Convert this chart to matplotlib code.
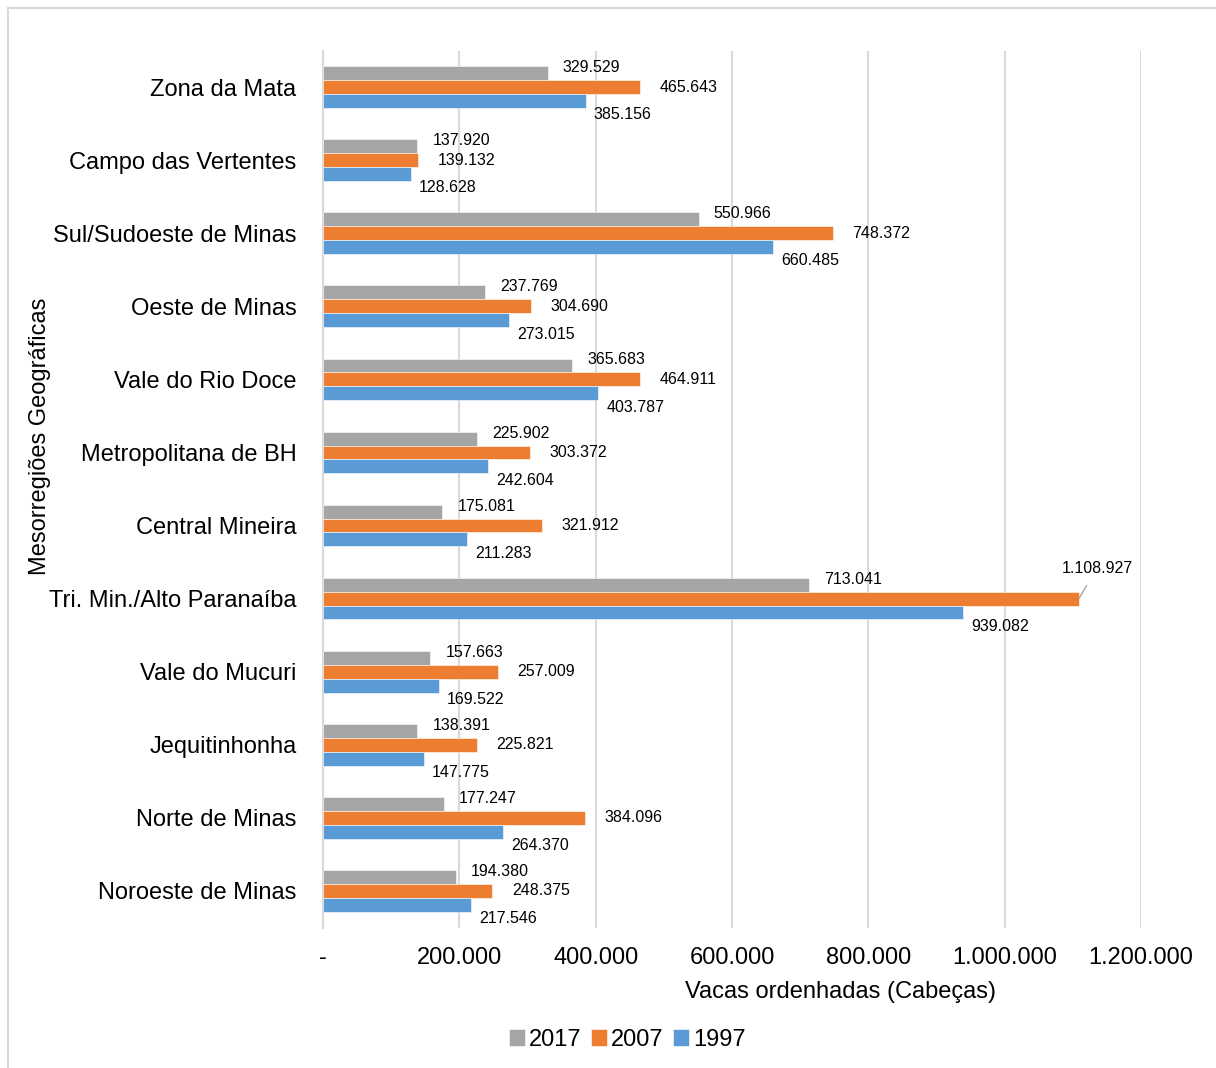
import matplotlib.pyplot as plt
from matplotlib.lines import Line2D
import numpy as np

plt.rcParams['font.family'] = ['Liberation Sans', 'DejaVu Sans']

# Mesorregiões de Minas Gerais e vacas ordenhadas por ano
regioes = ["Zona da Mata", "Campo das Vertentes", "Sul/Sudoeste de Minas",
           "Oeste de Minas", "Vale do Rio Doce", "Metropolitana de BH",
           "Central Mineira", "Tri. Min./Alto Paranaíba", "Vale do Mucuri",
           "Jequitinhonha", "Norte de Minas", "Noroeste de Minas"]
vacas_2017 = [329529, 137920, 550966, 237769, 365683, 225902,
              175081, 713041, 157663, 138391, 177247, 194380]
vacas_2007 = [465643, 139132, 748372, 304690, 464911, 303372,
              321912, 1108927, 257009, 225821, 384096, 248375]
vacas_1997 = [385156, 128628, 660485, 273015, 403787, 242604,
              211283, 939082, 169522, 147775, 264370, 217546]
anos = ["2017", "2007", "1997"]
cores = ["#A5A5A5", "#ED7D31", "#5B9BD5"]
xticks = [0, 200000, 400000, 600000, 800000, 1000000, 1200000]


def fmt(v):
    if v == 0:
        return "-"
    return f"{v:,}".replace(",", ".")


fig = plt.figure(figsize=(12.16, 10.68), dpi=100)
ax = fig.add_axes([323 / 1216, 1 - 927.5 / 1068, 818 / 1216, 877 / 1068])

y = np.arange(len(regioes))
h = 0.19
series = [vacas_2017, vacas_2007, vacas_1997]
deslocs = [-h, 0, h]
# deslocamento dos rótulos (pontos): direita, vertical
rot_off = [(11, 4), (14, 0), (6, -10)]

for vals, cor, d, ano, off in zip(series, cores, deslocs, anos, rot_off):
    ax.barh(y + d, vals, height=h, color=cor, edgecolor="white",
            linewidth=0.4, label=ano, zorder=3)
    for yi, v in zip(y, vals):
        if ano == "2007" and v > 1000000:
            # rótulo deslocado com linha de chamada
            ax.annotate(fmt(v), xy=(v, yi + d), xytext=(13, 22),
                        textcoords="offset points", fontsize=11.5,
                        ha="center", va="center",
                        arrowprops=dict(arrowstyle="-", color="#A5A5A5",
                                        lw=1, shrinkA=6, shrinkB=0))
            continue
        ax.annotate(fmt(v), xy=(v, yi + d), xytext=off,
                    textcoords="offset points", fontsize=11.5,
                    ha="left", va="center")

ax.set_xlim(0, 1200000)
ax.set_ylim(len(regioes) - 0.5, -0.5)
ax.set_yticks(y)
ax.set_yticklabels(regioes, fontsize=17)
ax.set_xticks(xticks)
ax.set_xticklabels([fmt(t) for t in xticks], fontsize=17)
ax.tick_params(axis="both", length=0)
ax.tick_params(axis="y", pad=19)
ax.tick_params(axis="x", pad=14)
ax.grid(axis="x", color="#D9D9D9", linewidth=1.5, zorder=0)
for s in ["top", "right", "bottom"]:
    ax.spines[s].set_visible(False)
ax.spines["left"].set_color("#D9D9D9")
ax.spines["left"].set_linewidth(1.5)

ax.set_xlabel("Vacas ordenhadas (Cabeças)", fontsize=17)
ax.xaxis.set_label_coords(0.633, -0.074)
ax.xaxis.label.set_va("center")

fig.text(40 / 1216, 1 - 436 / 1068, "Mesorregiões Geográficas", fontsize=17,
         rotation=90, ha="center", va="center")

handles, labels = ax.get_legend_handles_labels()
fig.legend(handles, labels, loc="center", bbox_to_anchor=(627 / 1216, 1 - 1040 / 1068),
           ncol=3, frameon=False, fontsize=17, handlelength=0.7, handleheight=0.7,
           handletextpad=0.15, columnspacing=0.4)

# moldura do gráfico
fig.add_artist(Line2D([8 / 1216, 8 / 1216], [0, 1 - 8 / 1068],
                      color="#D9D9D9", lw=1.5, transform=fig.transFigure))
fig.add_artist(Line2D([8 / 1216, 1], [1 - 8 / 1068, 1 - 8 / 1068],
                      color="#D9D9D9", lw=1.5, transform=fig.transFigure))

fig.savefig("out.png", dpi=100)
